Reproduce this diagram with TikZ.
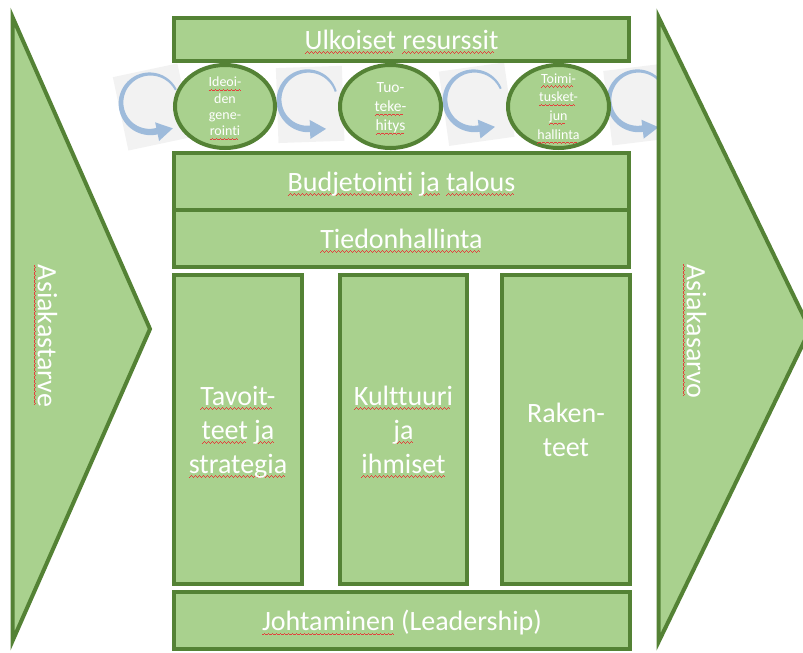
\documentclass[tikz,border=0pt]{standalone}
\usepackage{fontspec}
\setmainfont[Ligatures=NoCommon]{Carlito}
\usetikzlibrary{shapes.geometric}

\definecolor{leaf}{HTML}{A9D18E}
\definecolor{leafedge}{HTML}{548235}
\definecolor{swirl}{HTML}{9EBBDB}
\definecolor{swirlbg}{HTML}{F2F2F2}
\definecolor{spellred}{HTML}{E3403D}

% red wavy proofing underline built from a repeated stepped tile
\newsavebox\wavebox
\newsavebox\splword
\sbox\wavebox{\color{spellred}%
  \rule[0pt]{1pt}{0.6pt}\rule[0.6pt]{1pt}{0.6pt}\rule[1.2pt]{1pt}{0.6pt}\rule[0.6pt]{1pt}{0.6pt}}
\newcommand\spl[1]{\sbox\splword{#1}%
  \rlap{\raisebox{-4pt}{\leaders\copy\wavebox\hskip\wd\splword}}\usebox\splword}

% circular cycle arrow on a light tile: centre x, centre y, tilt
\newcommand\cycarrow[3]{%
  \begin{scope}[shift={(#1,#2)},rotate=#3]
    \fill[swirlbg] (-31,-33) rectangle (35,42);
    \fill[swirl]
      plot[domain=-15:-274,samples=60]
        ({(29+1+2.3*(-15-(\x))/259)*cos(\x)},{(29+1+2.3*(-15-(\x))/259)*sin(\x)})
      -- plot[domain=-274:-15,samples=60]
        ({(29-1-2.3*(-15-(\x))/259)*cos(\x)},{(29-1-2.3*(-15-(\x))/259)*sin(\x)})
      -- cycle;
    \fill[swirl] (1,20) -- (17,29.5) -- (1,39) -- cycle;
  \end{scope}}

\begin{document}
\begin{tikzpicture}[x=1pt,y=-1pt,
  block/.style={draw=leafedge,line width=4pt,fill=leaf,inner sep=0pt,
    text=white,align=center,text depth=0pt},
  bigtext/.style={font=\fontsize{28}{34}\selectfont},
  lettering/.style={text=white,align=center,inner sep=0pt,text depth=0pt},
  wedge/.style={draw=leafedge,line width=4pt,fill=leaf,line join=miter}]

\useasboundingbox (0,0) rectangle (803,653);
\clip (0,0) rectangle (803,653);

% cycle arrows behind the process circles
\cycarrow{150}{103}{12}
\cycarrow{308}{100}{2}
\cycarrow{474}{100}{8}
\cycarrow{638}{100}{7}

% horizontal layers
\node[block,bigtext,minimum width=455pt,minimum height=43pt] (ext) at (401.5,39.5)
  {\spl{Ulkoiset} \spl{resurssit}};
\node[block,bigtext,minimum width=455pt,minimum height=57pt] (budget) at (401.5,181.5)
  {\spl{Budjetointi} \spl{ja} \spl{talous}};
\node[block,bigtext,minimum width=455pt,minimum height=57pt] (info) at (401.5,238.5)
  {\spl{Tiedonhallinta}};

% pillars
\node[block,bigtext,minimum width=128pt,minimum height=309pt] (goals) at (238,429.5)
  {\spl{Tavoit-}\\\spl{teet} \spl{ja}\\\spl{strategia}};
\node[block,bigtext,minimum width=127pt,minimum height=309pt] (culture) at (403.5,429.5)
  {\spl{Kulttuuri}\\\spl{ja}\\\spl{ihmiset}};
\node[block,bigtext,minimum width=128pt,minimum height=309pt] (structs) at (566,429.5)
  {Raken-\\teet};

% foundation
\node[block,bigtext,minimum width=456pt,minimum height=57pt] (lead) at (402,620.5)
  {\spl{Johtaminen} (Leadership)};

% process circles
\node[block,ellipse,minimum width=100pt,minimum height=83pt] (idea) at (225,106.5) {};
\node[block,ellipse,minimum width=101pt,minimum height=83pt] (prod) at (390.5,106.5) {};
\node[block,ellipse,minimum width=101pt,minimum height=83pt] (deliv) at (558.5,106.5) {};

\node[lettering,font=\fontsize{14}{16.4}\selectfont] (ideaText) at (idea)
  {\spl{Ideoi-}\\den\\gene-\\\spl{rointi}};
\node[lettering,font=\fontsize{15.5}{19}\selectfont] (prodText) at (prod)
  {Tuo-\\\spl{teke-}\\\spl{hitys}};
\node[lettering,font=\fontsize{14}{18.7}\selectfont] (delivText) at (deliv)
  {\spl{Toimi-}\\\spl{tusket-}\\\spl{jun}\\\spl{hallinta}};

% customer need and customer value
\draw[wedge] (12.5,17) -- (12.5,641) -- (150,329) -- cycle;
\draw[wedge] (658.5,17) -- (658.5,642) -- (810,329.5) -- cycle;

\node[lettering,bigtext,rotate=-90] (need) at (47.5,336) {\spl{Asiakastarve}};
\node[lettering,bigtext,rotate=-90] (value) at (696.5,331.5) {\spl{Asiakasarvo}};

\end{tikzpicture}
\end{document}
